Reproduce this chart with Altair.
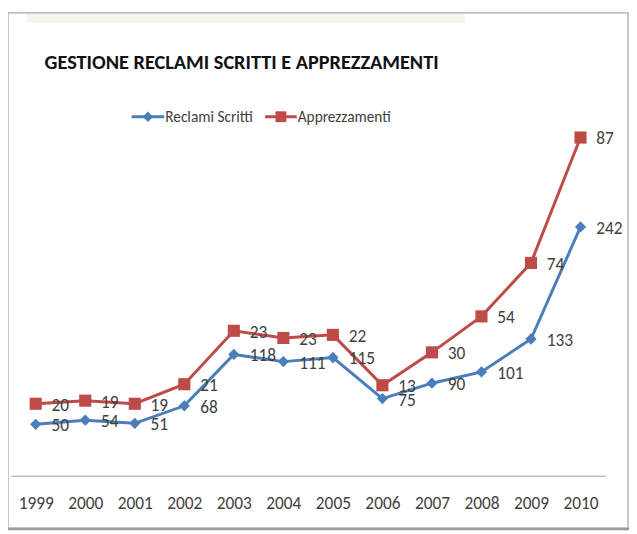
import altair as alt
import pandas as pd

years = ["1999", "2000", "2001", "2002", "2003", "2004", "2005", "2006", "2007", "2008", "2009", "2010"]
reclami = [50, 54, 51, 68, 118, 111, 115, 75, 90, 101, 133, 242]
apprezzamenti = [20, 19, 19, 21, 23, 23, 22, 13, 30, 54, 74, 87]
series = ["Reclami Scritti", "Apprezzamenti"]
colors = ["#4A7EBB", "#BE4B48"]
title_text = "GESTIONE RECLAMI SCRITTI E APPREZZAMENTI"

rows = []
for i, y in enumerate(years):
    rows.append({"year": y, "series": series[0], "ord": 0, "value": reclami[i]})
    rows.append({"year": y, "series": series[1], "ord": 1, "value": apprezzamenti[i]})
df = pd.DataFrame(rows)

W, H = 601, 343
FONT = "Carlito"
TXT = "#404040"

base = alt.Chart(df).transform_stack(
    stack="value", groupby=["year"], as_=["y0", "y1"], sort=[alt.SortField("ord")]
)
xenc = alt.X("year:O", scale=alt.Scale(type="point", padding=0.5), sort=years,
             axis=alt.Axis(title=None, ticks=False, labelAngle=0, labelPadding=19,
                           domainColor="#BFBFBF", domainWidth=1.5, labelColor=TXT,
                           labelFont=FONT, labelFontSize=17.5, grid=False, zindex=1))
yenc = alt.Y("y1:Q", scale=alt.Scale(domain=[0, 330], nice=False, zero=True), axis=None)
cenc = alt.Color("series:N", scale=alt.Scale(domain=series, range=colors), legend=None)

lines = base.mark_line(strokeWidth=3).encode(x=xenc, y=yenc, color=cenc, detail="series:N")
pts_b = base.transform_filter(alt.datum.series == series[0]).mark_point(
    shape="diamond", filled=True, size=130, opacity=1, color=colors[0]).encode(x=xenc, y=yenc)
pts_r = base.transform_filter(alt.datum.series == series[1]).mark_point(
    shape="square", filled=True, size=150, opacity=1, color=colors[1]).encode(x=xenc, y=yenc)
labels = base.mark_text(align="left", baseline="middle", dx=16, dy=2, font=FONT,
                        fontSize=17.5, color=TXT).encode(x=xenc, y=yenc, text="value:Q")

one = pd.DataFrame({"a": [0]})
border = alt.Chart(one).mark_rect(fill=None, stroke="#A6A6A6", strokeWidth=1.2).encode(
    x=alt.value(-3), x2=alt.value(624), y=alt.value(-125), y2=alt.value(396))
bottom_shadow = alt.Chart(one).mark_rule(color="#9A9A9A", strokeWidth=2.5).encode(
    x=alt.value(-3), x2=alt.value(625), y=alt.value(397))
band = alt.Chart(one).mark_rect(fill="#F7F3EE").encode(
    x=alt.value(16), x2=alt.value(459), y=alt.value(-124), y2=alt.value(-115))
title = alt.Chart(one).mark_text(text=title_text, align="left", baseline="alphabetic",
                                 font=FONT, fontWeight="bold",
                                 fontSize=20.5, color="#111111").encode(
    x=alt.value(34), y=alt.value(-68))

leg = []
leg_x = [(122, 155, 156), (257, 289, 290)]
shapes = ["diamond", "square"]
sizes = [110, 120]
for i, s in enumerate(series):
    x0, x1, xt = leg_x[i]
    leg.append(alt.Chart(one).mark_rule(color=colors[i], strokeWidth=3).encode(
        x=alt.value(x0), x2=alt.value(x1), y=alt.value(-20)))
    leg.append(alt.Chart(one).mark_point(shape=shapes[i], filled=True, size=sizes[i], opacity=1,
                                         color=colors[i]).encode(
        x=alt.value((x0 + x1) / 2), y=alt.value(-20)))
    leg.append(alt.Chart(one).mark_text(text=s, align="left", baseline="middle",
                                        font=FONT, fontSize=15.5, color=TXT).encode(
        x=alt.value(xt), y=alt.value(-20)))

chart = alt.layer(border, bottom_shadow, band, title, *leg, lines, pts_b, pts_r, labels).properties(
    width=W, height=H, autosize=alt.AutoSizeParams(type="none"),
    padding={"left": 3, "top": 127, "right": 24, "bottom": 56},
    background="white"
).configure_view(stroke=None)

chart.save("out.html", embed_options={"renderer": "svg", "actions": False})
